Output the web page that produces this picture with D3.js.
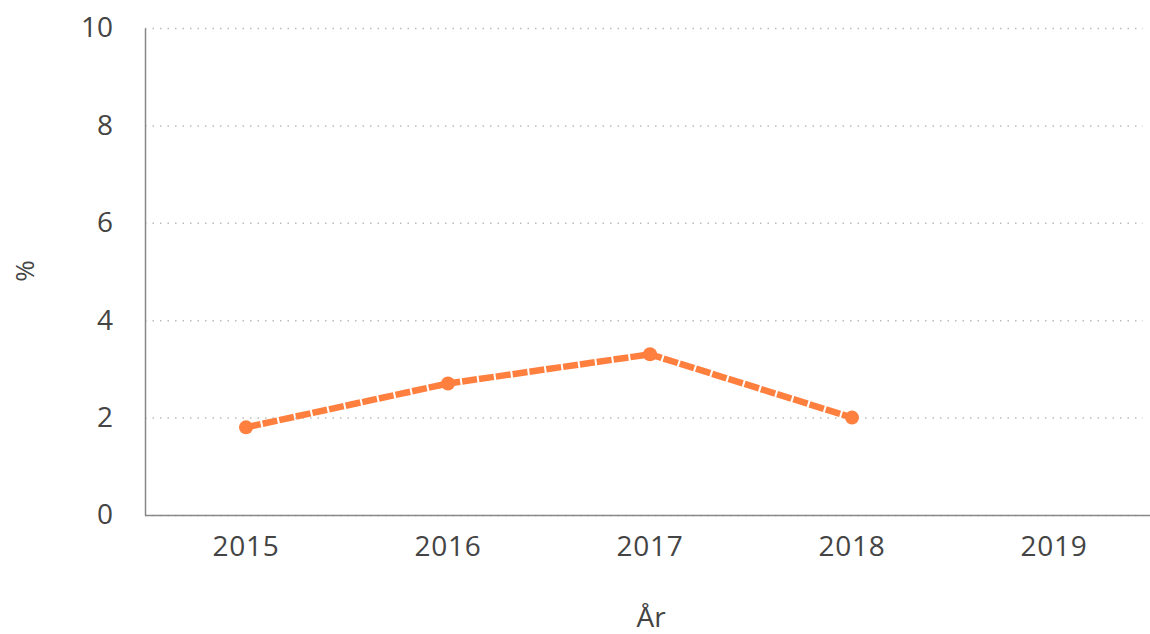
<!DOCTYPE html>
<html><head><meta charset="utf-8">
<script src="https://cdn.jsdelivr.net/npm/d3@7"></script>
<style>body{margin:0;background:#fff;} text{font-family:"Open Sans",sans-serif;}</style>
</head><body>
<svg id="c" width="1150" height="634"></svg>
<script>
const years = ["2015","2016","2017","2018","2019"];
const values = [1.8, 2.7, 3.3, 2.0, null];
const yTicks = [0,2,4,6,8,10];
const xTitle = "År";
const yTitle = "%";

(function(){
const svg = d3.select("#c");
const mLeft = 145, mRight = 1155, mTop = 28, mBottom = 515;
const fs = 28;
const x = d3.scaleBand().domain(years).range([mLeft, mRight]);
const y = d3.scaleLinear().domain([0,10]).range([mBottom, mTop]);

// gridlines
svg.append("g").selectAll("line").data(yTicks).join("line")
  .attr("x1", mLeft).attr("x2", 1143)
  .attr("y1", d => y(d)+0.5).attr("y2", d => y(d)+0.5)
  .attr("stroke", "#bbb").attr("stroke-width", 1.5).attr("stroke-dasharray", "1.5,6");

// y axis
const ya = svg.append("g").attr("transform", `translate(${mLeft},0)`)
  .call(d3.axisLeft(y).tickValues(yTicks).tickSize(0).tickPadding(32));
ya.select(".domain").attr("stroke", "#888").attr("stroke-width", 1.5);
ya.selectAll("text").attr("font-size", fs).attr("fill", "#444").attr("font-family", "Open Sans");

// x axis
const xa = svg.append("g").attr("transform", `translate(0,${mBottom})`)
  .call(d3.axisBottom(x).tickSize(0).tickPadding(21));
xa.select(".domain").attr("stroke", "#888").attr("stroke-width", 1.5).attr("d", `M${mLeft},0.5H1150`);
xa.selectAll("text").attr("font-size", fs).attr("fill", "#444").attr("font-family", "Open Sans")
  .attr("letter-spacing", 0.8);

// titles
svg.append("text").attr("x", 651).attr("y", 627).attr("text-anchor", "middle")
  .attr("font-size", fs).attr("fill", "#444").text(xTitle);
svg.append("text").attr("transform", "translate(34,271) rotate(-90)").attr("text-anchor", "middle")
  .attr("font-size", fs-2).attr("fill", "#444").text(yTitle);

// line
const pts = years.map((d,i) => ({year:d, v:values[i]})).filter(d => d.v != null);
const line = d3.line().x(d => x(d.year) + x.bandwidth()/2).y(d => y(d.v));
svg.append("path").datum(pts).attr("d", line).attr("fill", "none")
  .attr("stroke", "#ff7f3f").attr("stroke-width", 6.5).attr("stroke-dasharray", "15,2")
  .attr("stroke-linejoin", "round");
svg.append("g").selectAll("circle").data(pts).join("circle")
  .attr("cx", d => x(d.year) + x.bandwidth()/2).attr("cy", d => y(d.v))
  .attr("r", 7).attr("fill", "#ff7f3f");
})();
</script>
</body></html>
